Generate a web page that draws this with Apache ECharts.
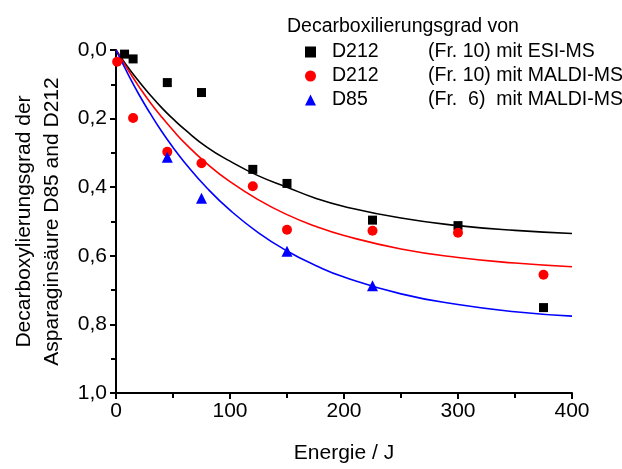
<!DOCTYPE html>
<html>
<head>
<meta charset="utf-8">
<script src="https://cdn.jsdelivr.net/npm/echarts@6/dist/echarts.min.js"></script>
<style>
  html, body { margin: 0; padding: 0; background: #fff; }
  #chart { width: 622px; height: 469px; }
</style>
</head>
<body>
<div id="chart"></div>
<script>
const FONT = '"Liberation Sans", Arial, Helvetica, sans-serif';

// measured points
const ESI_X = [7.5, 15, 45, 75, 120, 150, 225, 300, 375];
const ESI_Y = [0.012, 0.026, 0.095, 0.124, 0.348, 0.389, 0.496, 0.512, 0.751];
const MALDI212_X = [1, 15, 45, 75, 120, 150, 225, 300, 375];
const MALDI212_Y = [0.034, 0.198, 0.297, 0.33, 0.397, 0.524, 0.527, 0.533, 0.655];
const MALDI85_X = [45, 75, 150, 225];
const MALDI85_Y = [0.313, 0.432, 0.587, 0.687];

// fitted curves
const FIT_X = [0, 10, 20, 30, 40, 50, 60, 80, 100, 125, 150, 175, 200, 250, 300, 350, 400];
const FIT_ESI = [0, 0.048, 0.091, 0.131, 0.168, 0.201, 0.231, 0.284, 0.324, 0.367, 0.400, 0.432, 0.456, 0.490, 0.512, 0.526, 0.535];
const FIT_212 = [0, 0.055, 0.106, 0.153, 0.195, 0.234, 0.270, 0.332, 0.384, 0.437, 0.480, 0.514, 0.541, 0.580, 0.605, 0.621, 0.632];
const FIT_85 = [0, 0.067, 0.129, 0.185, 0.237, 0.284, 0.327, 0.403, 0.467, 0.533, 0.586, 0.628, 0.662, 0.711, 0.742, 0.763, 0.776];

const LEGEND_NAMES = ['D212', 'D212', 'D85'];
const LEGEND_NOTES = ['(Fr. 10) mit ESI-MS', '(Fr. 10) mit MALDI-MS', '(Fr.  6)  mit MALDI-MS'];
const SERIES_KEYS = ['esi212', 'maldi212', 'maldi85'];

const pairs = (xs, ys) => xs.map((x, i) => [x, ys[i]]);

function scatter(key, xs, ys, symbol, size, color) {
    return { name: key, type: 'scatter', data: pairs(xs, ys), symbol, symbolSize: size,
        itemStyle: { color, opacity: 1 }, z: 3, clip: false };
}

function fit(ys, color) {
    return { type: 'line', data: pairs(FIT_X, ys), smooth: true, showSymbol: false, z: 2,
        lineStyle: { color, width: 1.6 }, silent: true };
}

const chart = echarts.init(document.getElementById('chart'), null, { renderer: 'canvas' });

chart.setOption({
    animation: false,
    textStyle: { fontFamily: FONT },
    title: {
        text: 'Decarboxilierungsgrad von',
        left: 282, top: 12,
        textStyle: { fontFamily: FONT, fontSize: 19.5, fontWeight: 'normal', color: '#000' }
    },
    legend: {
        data: SERIES_KEYS,
        orient: 'vertical',
        left: 300, top: 37,
        itemWidth: 11, itemHeight: 11, itemGap: 4,
        formatter: name => {
            const i = SERIES_KEYS.indexOf(name);
            return '{a|' + LEGEND_NAMES[i] + '}{b|' + LEGEND_NOTES[i] + '}';
        },
        textStyle: {
            fontFamily: FONT, fontSize: 19.5, color: '#000',
            rich: {
                a: { fontFamily: FONT, fontSize: 19.5, color: '#000', width: 96, padding: [0, 0, 0, 11] },
                b: { fontFamily: FONT, fontSize: 19.5, color: '#000' }
            }
        }
    },
    grid: { left: 116, right: 50, top: 50, bottom: 74 },
    xAxis: {
        type: 'value', min: 0, max: 400, interval: 100,
        name: 'Energie / J', nameLocation: 'middle', nameGap: 50,
        nameTextStyle: { fontFamily: FONT, fontSize: 21, color: '#000' },
        axisLine: { onZero: false, lineStyle: { color: '#000', width: 2 } },
        axisTick: { show: true, length: 6, lineStyle: { color: '#000', width: 2 } },
        minorTick: { show: true, splitNumber: 2, length: 5, lineStyle: { color: '#000', width: 2 } },
        axisLabel: { fontFamily: FONT, fontSize: 21, color: '#000', margin: 8 },
        splitLine: { show: false }
    },
    yAxis: {
        type: 'value', min: 0, max: 1, interval: 0.2, inverse: true,
        name: 'Decarboxylierungsgrad der\nAsparaginsäure D85 and D212',
        nameLocation: 'middle', nameGap: 50, nameRotate: 90,
        nameTextStyle: { fontFamily: FONT, fontSize: 21, color: '#000', lineHeight: 28 },
        axisLine: { onZero: false, lineStyle: { color: '#000', width: 2 } },
        axisTick: { show: true, length: 6, lineStyle: { color: '#000', width: 2 } },
        minorTick: { show: true, splitNumber: 2, length: 5, lineStyle: { color: '#000', width: 2 } },
        axisLabel: { fontFamily: FONT, fontSize: 21, color: '#000', margin: 9,
            formatter: v => v.toFixed(1).replace('.', ',') },
        splitLine: { show: false }
    },
    series: [
        fit(FIT_ESI, '#000'),
        fit(FIT_212, '#ff0000'),
        fit(FIT_85, '#0000ff'),
        scatter('esi212', ESI_X, ESI_Y, 'rect', 9, '#000'),
        scatter('maldi212', MALDI212_X, MALDI212_Y, 'circle', 10, '#ff0000'),
        scatter('maldi85', MALDI85_X, MALDI85_Y, 'triangle', 11, '#0000ff')
    ]
});

window.addEventListener('resize', () => chart.resize());
</script>
</body>
</html>
